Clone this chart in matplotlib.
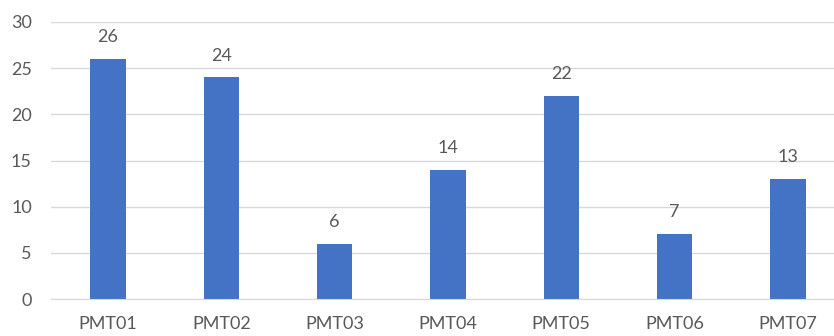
import matplotlib.pyplot as plt
import numpy as np

# Counts per PMT
categories = ['PMT01', 'PMT02', 'PMT03', 'PMT04', 'PMT05', 'PMT06', 'PMT07']
counts = [26, 24, 6, 14, 22, 7, 13]
yticks = [0, 5, 10, 15, 20, 25, 30]

plt.rcParams['font.family'] = ['Lato', 'DejaVu Sans']
text_color = '#595959'

fig = plt.figure(figsize=(8.34, 3.36), dpi=100)
# plot area runs past the right edge of the figure
ax = fig.add_axes([51.3 / 834, 37 / 336, 793.3 / 834, 277 / 336])

x = np.arange(len(categories))
bars = ax.bar(x, counts, width=0.31, color='#4472C4', zorder=3)
ax.bar_label(bars, labels=[str(c) for c in counts], padding=10,
             fontsize=13, color=text_color)

ax.set_xlim(-0.5, len(categories) - 0.5)
ax.set_ylim(0, 30)
ax.set_yticks(yticks)
ax.set_xticks(x, categories)
ax.yaxis.grid(True, color='#D9D9D9', linewidth=1, zorder=0)
ax.tick_params(axis='both', length=0, labelsize=13, labelcolor=text_color)
ax.tick_params(axis='y', pad=14)
ax.tick_params(axis='x', pad=12)
for side in ['top', 'right', 'left']:
    ax.spines[side].set_visible(False)
ax.spines['bottom'].set_color('#D9D9D9')
ax.spines['bottom'].set_zorder(4)

fig.savefig('out.png', dpi=100)
